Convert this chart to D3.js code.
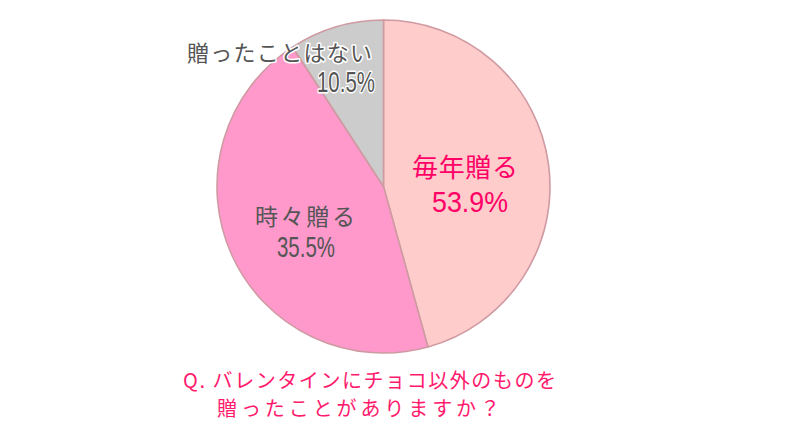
<!DOCTYPE html>
<html>
<head>
<meta charset="utf-8">
<script src="https://cdn.jsdelivr.net/npm/d3@7"></script>
<style>
  html, body { margin: 0; padding: 0; background: #ffffff; }
  svg { display: block; }
</style>
</head>
<body>
<svg id="chart" width="800" height="442"></svg>
<script>
// ---- data ----
const categories = ["毎年贈る", "時々贈る", "贈ったことはない"];
const labelValues = [53.9, 35.5, 10.5];          // printed percentages
const sliceShares = [45.7, 45.1, 9.2];           // slice sizes as drawn (clockwise from 12 o'clock)
const questionLines = ["Q. バレンタインにチョコ以外のものを", "贈ったことがありますか？"];

// ---- styles ----
const sliceColors = ["#ffcccc", "#ff99cc", "#cccccc"];
const nameColors = ["#ff0066", "#555555", "#555555"];
const questionColor = "#ff1a6e";

const svg = d3.select("#chart");
const W = 800, H = 442;
const cx = 383.5, cy = 186.5, R = 166.5;

const data = categories.map((c, i) => ({
  name: c, label: labelValues[i].toFixed(1) + "%", share: sliceShares[i], i
}));

const pie = d3.pie().value(d => d.share).sort(null);
const arc = d3.arc().innerRadius(0).outerRadius(R);

const g = svg.append("g").attr("transform", `translate(${cx},${cy})`);

g.selectAll("path.slice")
  .data(pie(data))
  .join("path")
  .attr("class", "slice")
  .attr("d", arc)
  .attr("fill", d => sliceColors[d.data.i])
  .attr("stroke", "#cf9aa2")
  .attr("stroke-width", 1.6)
  .attr("stroke-linejoin", "round");

// label layout (offsets relative to the pie centre)
const layout = [
  { name: [81.5, -21, 26, 106], pct: [86.5, 15, 76] },
  { name: [-78.5, 28.5, 23, 100], pct: [-77.5, 60, 58] },
  { name: [-104, -135.5, 22, 185], pct: [-37.5, -105.5, 58] }
];

data.forEach((d, i) => {
  const L = layout[i];
  const halo = i === 2;
  const t1 = g.append("text")
    .attr("x", L.name[0]).attr("y", L.name[1])
    .attr("text-anchor", "middle")
    .attr("dominant-baseline", "central")
    .attr("font-family", "'Noto Sans CJK JP', sans-serif")
    .attr("font-size", L.name[2])
    .attr("textLength", L.name[3])
    .attr("lengthAdjust", "spacing")
    .attr("fill", nameColors[i])
    .text(d.name);
  const t2 = g.append("text")
    .attr("x", L.pct[0]).attr("y", L.pct[1])
    .attr("text-anchor", "middle")
    .attr("dominant-baseline", "central")
    .attr("font-family", "'Liberation Sans', Arial, sans-serif")
    .attr("font-size", 30)
    .attr("textLength", L.pct[2])
    .attr("lengthAdjust", "spacingAndGlyphs")
    .attr("fill", nameColors[i])
    .text(d.label);
  if (halo) {
    [t1, t2].forEach(t => t.attr("stroke", "#ffffff").attr("stroke-width", 3)
      .attr("paint-order", "stroke").attr("stroke-linejoin", "round"));
  }
});

// question text
const q = [
  { x: 183, y: 379, len: 373 },
  { x: 217, y: 407, len: 283 }
];
questionLines.forEach((line, i) => {
  svg.append("text")
    .attr("x", q[i].x).attr("y", q[i].y)
    .attr("dominant-baseline", "central")
    .attr("font-family", "'Noto Sans CJK JP', sans-serif")
    .attr("font-size", 20)
    .attr("textLength", q[i].len)
    .attr("lengthAdjust", "spacing")
    .attr("fill", questionColor)
    .text(line);
});
</script>
</body>
</html>
